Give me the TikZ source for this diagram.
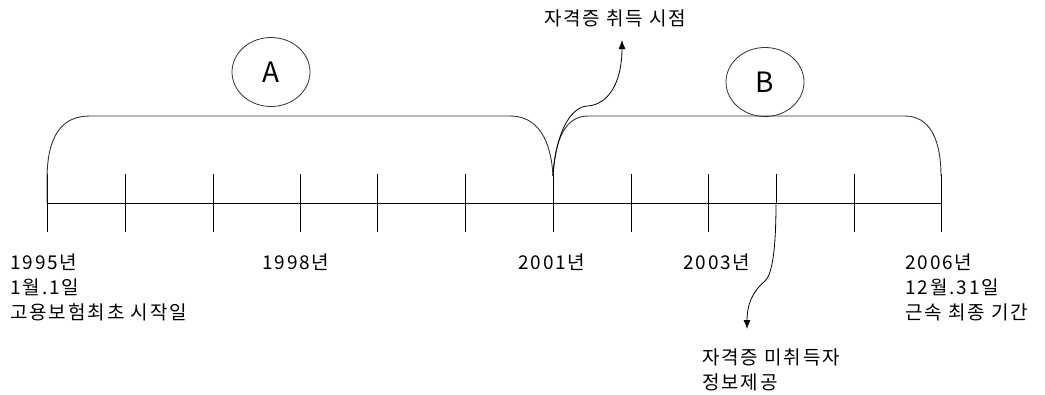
\documentclass[tikz,border=0pt]{standalone}
\usepackage{fontspec}
\setmainfont{Noto Sans CJK KR}[LetterSpace=10]
\newfontfamily\abfont{Noto Sans CJK KR}
\usetikzlibrary{shapes.geometric,arrows.meta}
\begin{document}
\begin{tikzpicture}[x=1pt,y=-1pt,
  line/.style={draw=black,line width=0.8pt},
  brace/.style={draw=black!80,line width=0.9pt},
  lbl/.style={anchor=north west,inner sep=0pt,align=left,font=\fontsize{19}{25}\selectfont},
  circ/.style={ellipse,draw=black!80,line width=0.8pt,minimum width=78pt,minimum height=69pt,inner sep=0pt,font=\abfont\fontsize{28}{30}\selectfont},
  arr/.style={draw=black,line width=0.8pt,-{Latex[length=9pt,width=7pt]}}]
\useasboundingbox (0,0) rectangle (1045,394);
% axis
\coordinate (L) at (47,203);
\coordinate (R) at (941,203);
\draw[line] (L) -- (R);
\foreach \n/\x in {0/47,1/125,2/213,3/300,4/377,5/465,6/553,7/631,8/708,9/776,10/854,11/941}{
  \coordinate (t\n) at (\x,203);
  \coordinate (tt\n) at (\x,174);
  \coordinate (tb\n) at (\x,232);
}
\foreach \n in {0,1,2,3,4,5,6,7,8,10,11}{\draw[line] (tt\n) -- (tb\n);}
\draw[line] (tt9) -- (t9);
% braces
\coordinate (cusp) at (553,176);
\draw[brace] (47,203) -- (47,180) .. controls (47,135) and (62,116) .. (90,116) -- (510,116) .. controls (538,116) and (551,140) .. (cusp);
\draw[brace] (cusp) .. controls (555,138) and (566,116) .. (588,116) -- (905,116) .. controls (930,116) and (941,140) .. (941,176);
% circles
\node[circ] (A) at (271,72) {A};
\node[circ] (B) at (765,82) {B};
% labels
\node[lbl] (l1995) at (10,254) {1995년\\1월.1일\\고용보험최초 시작일};
\node[lbl] (l1998) at (262,254) {1998년};
\node[lbl] (l2001) at (518,254) {2001년};
\node[lbl] (l2003) at (683,254) {2003년};
\node[lbl] (l2006) at (905,254) {2006년\\12월.31일\\근속 최종 기간};
\node[lbl] (top) at (544,10) {자격증 취득 시점};
\node[lbl] (bot) at (702,349) {자격증 미취득자\\정보제공};
% arrows
\coordinate (upend) at (622,40);
\coordinate (dnend) at (747,329);
\draw[arr] (cusp) .. controls (556,130) and (572,106) .. (588,106) .. controls (610,104) and (622,80) .. (upend);
\draw[arr] (t9) .. controls (776,250) and (772,275) .. (765,281) .. controls (752,292) and (747,305) .. (dnend);
\end{tikzpicture}
\end{document}
